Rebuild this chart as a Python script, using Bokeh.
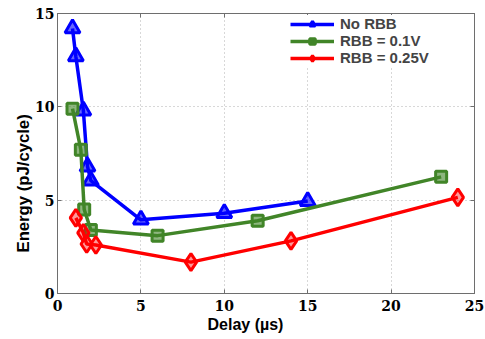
from bokeh.plotting import figure
from bokeh.models import LinearAxis, Range1d, FixedTicker, Legend, LegendItem, Title
from bokeh.embed import file_html
from bokeh.resources import INLINE

# Energy per cycle versus delay for three reverse body bias settings
no_rbb_delay = [0.9, 1.1, 1.55, 1.8, 2.0, 5.0, 10.0, 15.0]
no_rbb_energy = [14.2, 12.7, 9.8, 6.8, 6.05, 3.95, 4.3, 4.95]

rbb01_delay = [0.9, 1.4, 1.6, 2.0, 6.0, 12.0, 23.0]
rbb01_energy = [9.9, 7.7, 4.5, 3.4, 3.1, 3.9, 6.25]

rbb025_delay = [1.1, 1.55, 1.75, 2.3, 8.0, 14.0, 24.0]
rbb025_energy = [4.05, 3.25, 2.65, 2.6, 1.68, 2.82, 5.15]

x_ticks = [0, 5, 10, 15, 20, 25]
y_ticks = [0, 5, 10, 15]

p = figure(width=485, height=339, output_backend="svg", toolbar_location=None,
           x_range=Range1d(0, 25), y_range=Range1d(0, 15),
           min_border_left=57, min_border_right=11, min_border_top=13,
           min_border_bottom=46)
p.background_fill_color = "white"
p.border_fill_color = "white"
p.outline_line_color = "#6e6e6e"
p.outline_line_width = 1

tick_font = "DejaVu Serif"
label_font = "Liberation Sans"
frame_color = "#6e6e6e"

for ax in (p.xaxis[0], p.yaxis[0]):
    ax.major_label_text_font = tick_font
    ax.major_label_text_font_style = "bold"
    ax.major_label_text_font_size = "14px"
    ax.major_label_text_color = "black"
    ax.axis_line_color = frame_color
    ax.major_tick_line_color = frame_color
    ax.major_tick_in = 4
    ax.major_tick_out = 0
    ax.minor_tick_line_color = None

p.xaxis[0].ticker = FixedTicker(ticks=x_ticks)
p.yaxis[0].ticker = FixedTicker(ticks=y_ticks)
p.xaxis[0].major_label_standoff = 6
p.yaxis[0].major_label_standoff = 3

# Box ticks on the top and right edges
for side, tick in (("above", x_ticks), ("right", y_ticks)):
    a = LinearAxis(ticker=FixedTicker(ticks=tick),
                   major_label_overrides={t: "" for t in tick})
    a.major_label_standoff = 0
    a.axis_line_color = frame_color
    a.major_tick_line_color = frame_color
    a.major_tick_in = 4
    a.major_tick_out = 0
    a.minor_tick_line_color = None
    p.add_layout(a, side)

p.xgrid.ticker = FixedTicker(ticks=x_ticks)
p.ygrid.ticker = FixedTicker(ticks=y_ticks)
for g in (p.xgrid[0], p.ygrid[0]):
    g.grid_line_color = "#b0b0b0"
    g.grid_line_dash = "1 3"
    g.grid_line_width = 1

# Axis titles, set in the side panels
p.add_layout(Title(text="Delay (\u00b5s)", align="left", offset=150,
                   text_font=label_font, text_font_style="bold",
                   text_font_size="16px", text_color="black", standoff=0),
             "below")
p.add_layout(Title(text="Energy (pJ/cycle)", align="left", offset=41,
                   text_font=label_font, text_font_style="bold",
                   text_font_size="16.7px", text_color="black", standoff=0),
             "left")

blue = "#0000ff"
green = "#418528"
red = "#ff0000"

l1 = p.line(no_rbb_delay, no_rbb_energy, line_color=blue, line_width=3.5)
m1 = p.scatter(no_rbb_delay, no_rbb_energy, marker="triangle", size=15,
               line_color=blue, line_width=3, fill_color=blue, fill_alpha=0.6)
l2 = p.line(rbb01_delay, rbb01_energy, line_color=green, line_width=3.5)
m2 = p.scatter(rbb01_delay, rbb01_energy, marker="square", size=11,
               line_color=green, line_width=3, fill_color=green, fill_alpha=0.6)
l3 = p.line(rbb025_delay, rbb025_energy, line_color=red, line_width=3.5)
m3 = p.scatter(rbb025_delay, rbb025_energy, marker="diamond", size=17,
               line_color=red, line_width=3, fill_color=red, fill_alpha=0.4)

legend = Legend(items=[
    LegendItem(label="No RBB", renderers=[l1, m1]),
    LegendItem(label="RBB = 0.1V", renderers=[l2, m2]),
    LegendItem(label="RBB = 0.25V", renderers=[l3, m3]),
], location=(233, 227))
legend.label_text_font = label_font
legend.label_text_font_style = "bold"
legend.label_text_font_size = "15px"
legend.label_height = 14
legend.glyph_height = 14
legend.glyph_width = 44
legend.spacing = 0
legend.padding = 2
legend.margin = 0
legend.label_standoff = 6
legend.border_line_color = None
legend.background_fill_color = "white"
legend.background_fill_alpha = 1.0
p.add_layout(legend)

open("out.html", "w").write(file_html(p, INLINE))
